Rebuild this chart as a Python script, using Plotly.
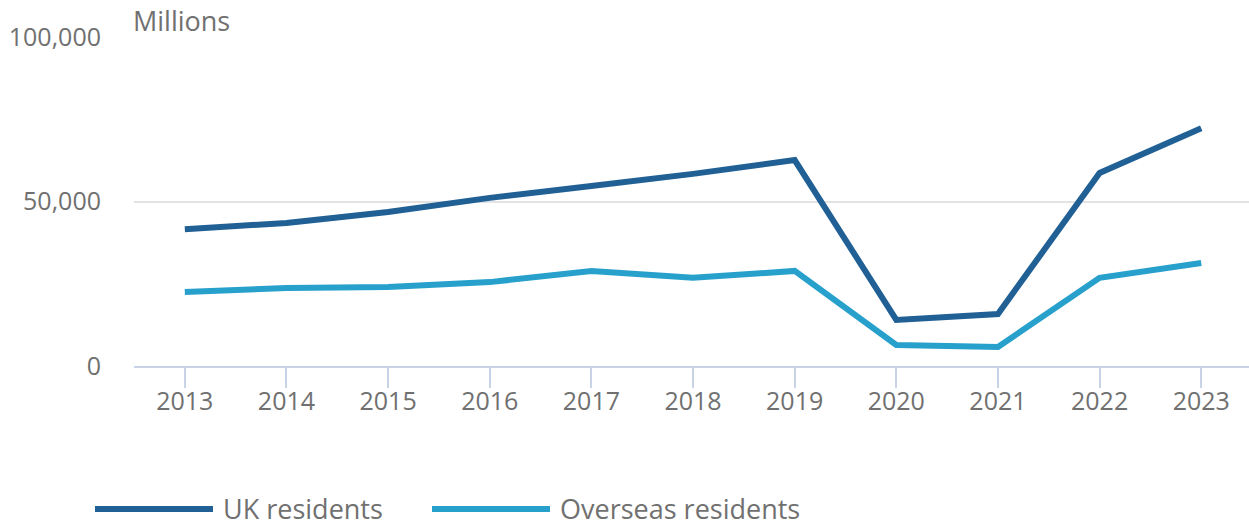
import plotly.graph_objects as go

years = [2013, 2014, 2015, 2016, 2017, 2018, 2019, 2020, 2021, 2022, 2023]
uk_residents = [41600, 43500, 46800, 51100, 54700, 58400, 62600, 14000, 15800, 58700, 72300]
overseas_residents = [22500, 23700, 24000, 25500, 28900, 26800, 28900, 6400, 5800, 26800, 31300]
series_names = ["UK residents", "Overseas residents"]
colors = ["#206095", "#27a0cc"]

fig = go.Figure()
for name, vals, col in zip(series_names, [uk_residents, overseas_residents], colors):
    fig.add_trace(go.Scatter(x=years, y=vals, name=name, mode="lines",
                             line=dict(color=col, width=6), showlegend=False))

# hand drawn legend so the swatches are as long as the original
legend_x = [95, 432]
for i, (name, col) in enumerate(zip(series_names, colors)):
    x0 = legend_x[i]
    fig.add_shape(type="line", xref="paper", yref="paper",
                  x0=(x0 - 134) / 1115, x1=(x0 + 118 - 134) / 1115,
                  y0=(366 - 509) / 329, y1=(366 - 509) / 329,
                  line=dict(color=col, width=6))
    fig.add_annotation(text=name, xref="paper", yref="paper",
                       x=(x0 + 126 - 134) / 1115, y=(366 - 508) / 329,
                       xanchor="left", yanchor="middle", showarrow=False,
                       height=30, font=dict(size=27, color="#707070"))

fig.add_annotation(text="Millions", xref="paper", yref="paper", x=0, y=1,
                   xanchor="left", yanchor="bottom", yshift=-4, xshift=-3,
                   showarrow=False, font=dict(size=27, color="#707070"))

fig.update_layout(
    width=1249, height=526,
    margin=dict(l=134, r=0, t=37, b=160),
    paper_bgcolor="white", plot_bgcolor="white",
    font=dict(family="Open Sans", color="#707070", size=25),
    xaxis=dict(range=[2012.5, 2023.47], tickvals=years, showgrid=False,
               showline=True, linecolor="#c9d3e6", linewidth=2,
               ticks="outside", ticklen=20, tickwidth=2, tickcolor="#c9d3e6",
               zeroline=False, tickfont=dict(size=25), ticklabelstandoff=-8),
    yaxis=dict(range=[0, 100000], tickvals=[0, 50000, 100000],
               tickformat=",", showgrid=True, gridcolor="#e3e3e3", gridwidth=2,
               zeroline=False, showline=False, ticks="", ticklabelstandoff=32,
               tickfont=dict(size=25)),
)

fig.write_html("out.html", config={"displayModeBar": False},
               post_script="document.body.style.margin='0';")
